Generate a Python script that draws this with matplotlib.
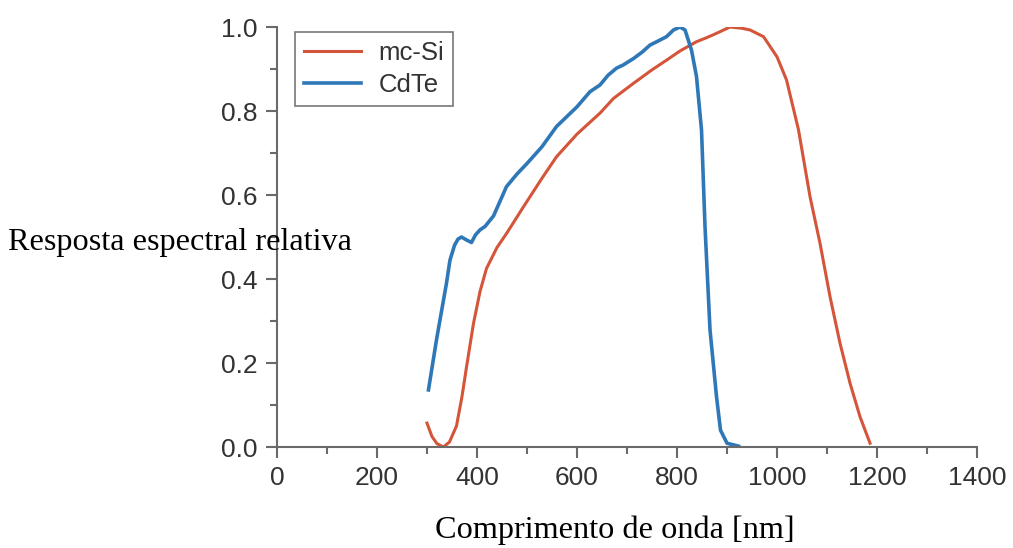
import matplotlib
matplotlib.use("Agg")
import matplotlib.pyplot as plt
from matplotlib.ticker import MultipleLocator

# mc-Si relative spectral response
si_wl = [300, 310, 320, 333, 345, 359, 370, 379, 393, 406, 419, 440, 460, 493, 530, 559,
         600, 646, 673, 713, 750, 779, 806, 839, 860, 879, 906, 930, 946, 973, 1000, 1019,
         1043, 1066, 1086, 1106, 1126, 1146, 1166, 1186]
si_resp = [0.057, 0.025, 0.008, 0.0, 0.012, 0.05, 0.12, 0.19, 0.294, 0.37, 0.425, 0.475, 0.51,
           0.572, 0.64, 0.691, 0.745, 0.795, 0.83, 0.866, 0.898, 0.921, 0.943, 0.965, 0.975,
           0.985, 1.0, 0.997, 0.993, 0.977, 0.929, 0.874, 0.755, 0.596, 0.485, 0.358, 0.247,
           0.152, 0.072, 0.009]

# CdTe relative spectral response
cd_wl = [303, 319, 339, 346, 355, 362, 369, 379, 389, 397, 406, 416, 433, 459, 480, 500,
         530, 559, 600, 626, 646, 662, 679, 693, 713, 730, 746, 766, 779, 793, 806, 816,
         829, 839, 849, 856, 866, 879, 887, 900, 923]
cd_resp = [0.136, 0.255, 0.39, 0.445, 0.48, 0.495, 0.50, 0.493, 0.487, 0.505, 0.517, 0.525,
           0.55, 0.62, 0.65, 0.675, 0.715, 0.763, 0.81, 0.846, 0.862, 0.885, 0.902, 0.91,
           0.925, 0.94, 0.957, 0.969, 0.977, 0.993, 1.0, 0.993, 0.945, 0.882, 0.755, 0.525,
           0.279, 0.12, 0.04, 0.009, 0.002]

series_labels = ["mc-Si", "CdTe"]
x_ticks = [0, 200, 400, 600, 800, 1000, 1200, 1400]
y_ticks = [0.0, 0.2, 0.4, 0.6, 0.8, 1.0]

RED = "#d4553a"
BLUE = "#2f78b7"
SPINE = "#6a6a6a"
TXT = "#333333"

fig = plt.figure(figsize=(10.13, 5.48), dpi=100)
ax = fig.add_axes([0.2734, 0.1843, 0.6911, 0.7664])

ax.plot(si_wl, si_resp, color=RED, lw=2.2, label=series_labels[0])
ax.plot(cd_wl, cd_resp, color=BLUE, lw=2.6, label=series_labels[1])

ax.set_xlim(0, 1400)
ax.set_ylim(0, 1.0)
ax.set_xticks(x_ticks)
ax.set_yticks(y_ticks)
ax.set_xticklabels([str(v) for v in x_ticks])
ax.set_yticklabels([f"{v:.1f}" for v in y_ticks])
ax.xaxis.set_minor_locator(MultipleLocator(100))
ax.yaxis.set_minor_locator(MultipleLocator(0.1))

for s in ["top", "right"]:
    ax.spines[s].set_visible(False)
for s in ["left", "bottom"]:
    ax.spines[s].set_color(SPINE)
    ax.spines[s].set_linewidth(1.5)

ax.tick_params(which="major", direction="out", length=8, width=1.5, color=SPINE,
               labelsize=19, labelcolor=TXT, pad=6)
ax.tick_params(which="minor", direction="out", length=5, width=1.5, color=SPINE)
for lab in ax.get_xticklabels() + ax.get_yticklabels():
    lab.set_family(["Liberation Sans", "DejaVu Sans"])

leg = ax.legend(loc="upper left", bbox_to_anchor=(0.026, 0.988), borderaxespad=0,
                frameon=True, fancybox=False,
                edgecolor="#555555", handlelength=2.2, handletextpad=0.7,
                borderpad=0.35, labelspacing=0.3, prop={"family": "Liberation Sans", "size": 18.5})
leg.get_frame().set_linewidth(1.2)
for t in leg.get_texts():
    t.set_color(TXT)

fig.text(0.0079, 0.558, "Resposta espectral relativa", family="Liberation Serif",
         fontsize=23.2, color="black", ha="left", va="center", zorder=0)
fig.text(0.607, 0.032, "Comprimento de onda [nm]", family="Liberation Serif",
         fontsize=23.2, color="black", ha="center", va="center")

fig.savefig("out.png", dpi=100)
